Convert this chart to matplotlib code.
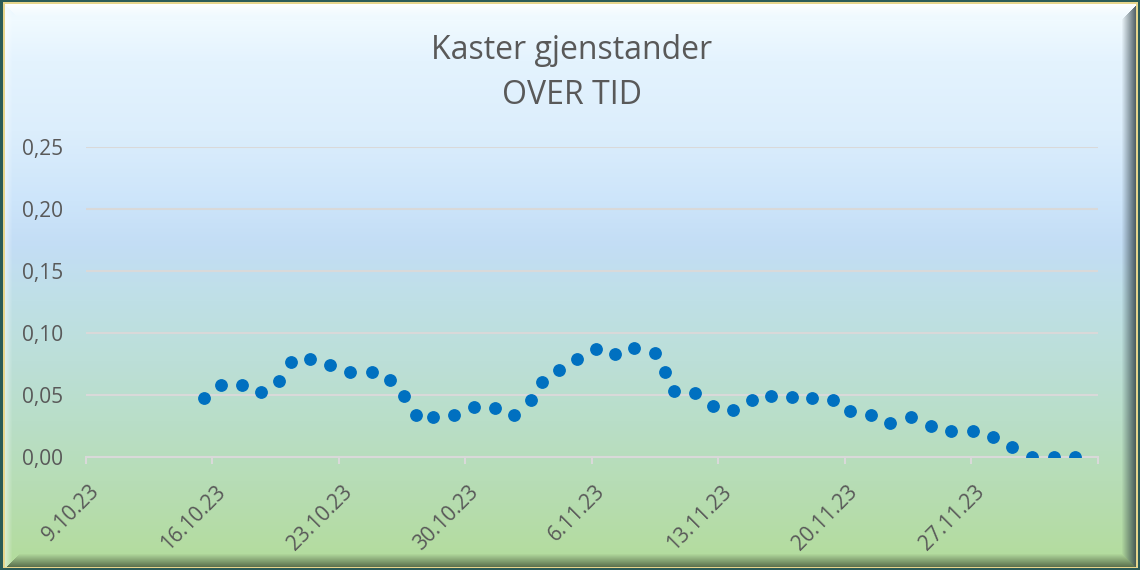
import numpy as np
import pandas as pd
import matplotlib
matplotlib.use("Agg")
import matplotlib.pyplot as plt
from matplotlib.colors import to_rgb
from matplotlib.transforms import ScaledTranslation

# --- data ---
startdato = pd.Timestamp("2023-10-09")
sluttdato = pd.Timestamp("2023-12-04")

# days after 9.10.23 for each registration
dager = [6.53, 7.48, 8.64, 9.71, 10.69, 11.35, 12.41, 13.53, 14.64, 15.84,
         16.85, 17.63, 18.26, 19.20, 20.36, 21.49, 22.67, 23.70, 24.61, 25.27,
         26.19, 27.19, 28.23, 29.31, 30.36, 31.49, 32.03, 32.58, 33.73, 34.71,
         35.81, 36.87, 37.95, 39.06, 40.17, 41.33, 42.31, 43.47, 44.53, 45.65,
         46.78, 47.90, 49.10, 50.21, 51.28, 52.39, 53.57, 54.75]

verdier = [0.047, 0.058, 0.058, 0.052, 0.061, 0.076, 0.079, 0.074, 0.068, 0.068,
           0.062, 0.049, 0.034, 0.032, 0.034, 0.040, 0.039, 0.034, 0.046, 0.060,
           0.070, 0.079, 0.087, 0.083, 0.088, 0.084, 0.068, 0.053, 0.051, 0.041,
           0.038, 0.046, 0.049, 0.048, 0.047, 0.046, 0.037, 0.034, 0.027, 0.032,
           0.025, 0.021, 0.021, 0.016, 0.008, 0.0, 0.0, 0.0]

x_etiketter = ["9.10.23", "16.10.23", "23.10.23", "30.10.23", "6.11.23",
               "13.11.23", "20.11.23", "27.11.23", ""]
y_verdier = [0.0, 0.05, 0.10, 0.15, 0.20, 0.25]
tittel = ["Kaster gjenstander", "OVER TID"]

plt.rcParams['font.family'] = ['Open Sans', 'DejaVu Sans']
TEKST = '#595959'

W, H = 1140, 570
fig = plt.figure(figsize=(W / 100, H / 100), dpi=100)

# --- background: vertical gradient with bevelled frame ---
stopp_y = [0, 20, 60, 130, 200, 245, 300, 360, 420, 480, 570]
stopp_c = ['#EAF6FE', '#F0FAFF', '#E4F3FE', '#DCEEFC', '#CDE5FA', '#C3DDF5',
           '#BFE0E6', '#BCDFD8', '#B9DEC8', '#B7DDB6', '#B3DC9A']
rader = np.arange(H)
grad = np.stack([np.interp(rader, stopp_y, [to_rgb(c)[i] for c in stopp_c])
                 for i in range(3)], axis=1)
img = np.repeat(grad[:, None, :], W, axis=1)

yy, xx = np.mgrid[0:H, 0:W]
x0, x1, y0, y1 = 5, W - 4, 4, H - 3
d = np.stack([yy - y0, xx - x0, x1 - xx, y1 - yy]).astype(float)
bredde = np.array([13.0, 7.0, 15.0, 14.0])
side = np.argmin(d, axis=0)
dmin = np.take_along_axis(d, side[None], axis=0)[0]
t = np.clip(dmin / bredde[side], 0, 1)
farger = np.array([to_rgb('#FFFFFF'), to_rgb('#FFFFFF'),
                   to_rgb('#2F3F45'), to_rgb('#3F4F35')])
styrke = np.array([0.9, 0.45, 0.85, 0.8])
w = ((1 - t) * styrke[side])[..., None]
img = img * (1 - w) + farger[side] * w

utenfor = (xx < x0) | (xx >= x1) | (yy < y0) | (yy >= y1)
gul = (xx >= 3) & (xx < W - 2) & (yy >= 2) & (yy < H - 2)
img[utenfor] = to_rgb('#2B5B57')
img[utenfor & gul] = to_rgb('#E6D58C')

ax_bg = fig.add_axes([0, 0, 1, 1], zorder=0)
ax_bg.imshow(img, aspect='auto', extent=(0, W, H, 0), interpolation='nearest')
ax_bg.axis('off')

# --- plot area ---
ax = fig.add_axes([86 / W, (H - 456.7) / H, (1097.5 - 86) / W, 310 / H], zorder=1)
ax.patch.set_alpha(0)

x = startdato + pd.to_timedelta(dager, unit='D')
ax.plot(x, verdier, 'o', ls='none', color='#0070C0', ms=8.2, zorder=3)

ax.set_xlim(startdato, sluttdato)
ax.set_ylim(0, 0.25)

ax.set_xticks(pd.date_range(startdato, sluttdato, freq='7D'))
ax.set_xticklabels(x_etiketter)
ax.set_yticks(y_verdier)
ax.set_yticklabels([f"{v:.2f}".replace('.', ',') for v in y_verdier])

ax.yaxis.grid(True, color='#D9D9D9', lw=1.5)
ax.set_axisbelow(True)
for s in ['top', 'left', 'right']:
    ax.spines[s].set_visible(False)
ax.spines['bottom'].set_color('#D9D9D9')
ax.spines['bottom'].set_linewidth(1.5)

ax.tick_params(axis='x', length=5, width=1.5, color='#D9D9D9', direction='out',
               labelsize=15, labelcolor=TEKST, pad=18)
ax.tick_params(axis='y', length=0, labelsize=15, labelcolor=TEKST, pad=16.5)

skift = ScaledTranslation(10 / 100, 0, fig.dpi_scale_trans)
for lbl in ax.get_xticklabels():
    lbl.set_rotation(45)
    lbl.set_ha('right')
    lbl.set_va('center')
    lbl.set_rotation_mode('anchor')
    lbl.set_transform(lbl.get_transform() + skift)

fig.text(572 / W, 1 - 59 / H, tittel[0], ha='center', va='baseline',
         fontsize=23, color=TEKST)
fig.text(572 / W, 1 - 104 / H, tittel[1], ha='center', va='baseline',
         fontsize=23, color=TEKST)

fig.savefig('out.png', dpi=100)
